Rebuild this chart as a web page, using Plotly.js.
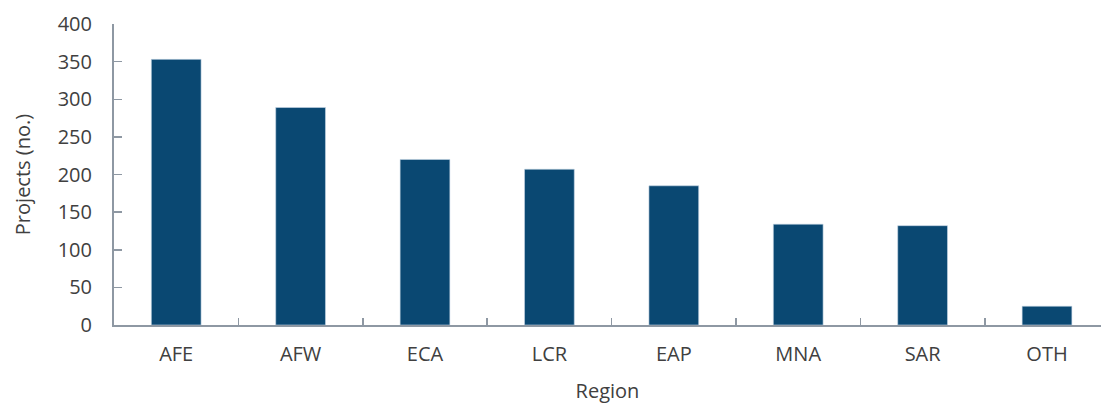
<!DOCTYPE html>
<html>
<head>
<meta charset="utf-8">
<script src="https://cdn.plot.ly/plotly-3.0.1.min.js"></script>
<style>html,body{margin:0;padding:0;background:#fff;}#chart{width:1101px;height:405px;}</style>
</head>
<body>
<div id="chart"></div>
<script>
const regions = ["AFE", "AFW", "ECA", "LCR", "EAP", "MNA", "SAR", "OTH"];
const projects = [353, 289, 220, 207, 185, 134, 132, 25];
const yTicks = [0, 50, 100, 150, 200, 250, 300, 350, 400];

const font = {family: "'Open Sans', 'Noto Sans', sans-serif", size: 20, color: "#404040"};
const axisColor = "#8e98a3";

Plotly.newPlot("chart", [{
  type: "bar",
  x: regions,
  y: projects,
  marker: {color: "#0a4872", line: {color: "rgba(200,215,230,0.6)", width: 1}},
  hoverinfo: "x+y"
}], {
  width: 1101,
  height: 405,
  margin: {l: 114, r: 0, t: 24, b: 80},
  paper_bgcolor: "#fff",
  plot_bgcolor: "#fff",
  bargap: 0.6,
  font: font,
  showlegend: false,
  xaxis: {
    type: "category",
    range: [-0.5, 7.434],
    showline: true,
    linecolor: axisColor,
    linewidth: 2,
    ticks: "inside",
    tickson: "boundaries",
    ticklen: 7,
    tickwidth: 1.5,
    tickcolor: axisColor,
    showgrid: false,
    zeroline: false,
    ticklabelstandoff: 10,
    tickfont: font,
    title: {text: "Region", font: font, standoff: 18}
  },
  yaxis: {
    range: [0, 400],
    tickvals: yTicks,
    showline: true,
    linecolor: axisColor,
    linewidth: 2,
    ticks: "inside",
    ticklen: 8,
    tickwidth: 1.5,
    tickcolor: axisColor,
    showgrid: false,
    zeroline: false,
    ticklabelstandoff: 16,
    tickfont: font,
    title: {text: "Projects (no.)", font: font, standoff: 22}
  }
}, {displayModeBar: false, staticPlot: true});
</script>
</body>
</html>
